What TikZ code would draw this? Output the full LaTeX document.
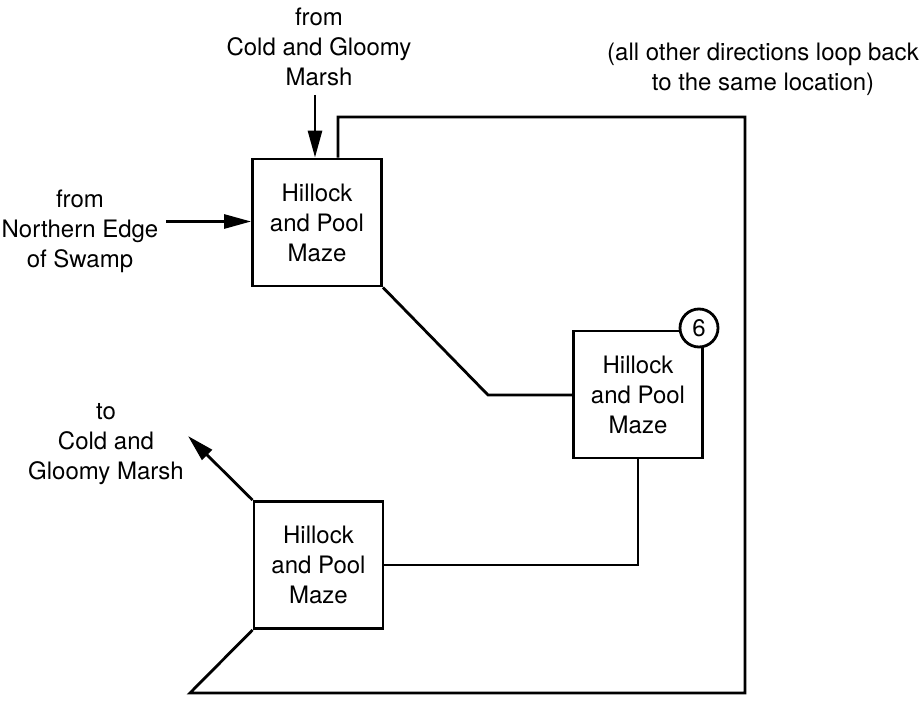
\documentclass[tikz,border=0pt]{standalone}
\usepackage{fontspec}
\setmainfont{TeX Gyre Heros}
\usetikzlibrary{arrows.meta,positioning,calc}
\tikzset{
    mazebox/.style={draw, line width=2.8pt, minimum width=129pt, minimum height=127pt,
        inner sep=0pt, align=center},
    lbl/.style={align=center, inner sep=0pt},
    wire/.style={line width=2.8pt, line join=miter},
    into/.style={wire, -{Triangle[length=27pt,width=14pt]}}
}
\begin{document}
\begin{tikzpicture}[x=1pt,y=-1pt,font=\fontsize{24}{30}\selectfont]
    \useasboundingbox (0,0) rectangle (923,703);
    \node[mazebox] (maze1) at (317,222.5) {Hillock\\and Pool\\Maze};
    \node[mazebox] (maze2) at (638,394.5) {Hillock\\and Pool\\Maze};
    \node[mazebox] (maze3) at (318.5,565) {Hillock\\and Pool\\Maze};
    \node[draw, circle, line width=2.8pt, fill=white, minimum size=38pt, inner sep=0pt]
        (six) at (699,328) {6};
%
    \node[lbl] (fromcold) at (319,47) {from\\Cold and Gloomy\\Marsh};
    \node[lbl] (fromnorth) at (80,231) {from\\Northern Edge\\of Swamp};
    \node[lbl] (tocold) at (106,444) {to\\Cold and\\Gloomy Marsh};
    \node[lbl] (note) at (763,69) {(all other directions loop back\\to the same location)};
%
    \coordinate (topin) at (315,95);
    \coordinate (leftin) at (166,221.5);
    \coordinate (outtip) at (188,436);
    \coordinate (bend) at (488,395);
    \coordinate (loopne) at (745,117);
    \coordinate (loopse) at (745,693);
    \coordinate (loopsw) at (190,693);
%
    \draw[into] (topin) -- (topin |- maze1.north);
    \draw[into] (leftin) -- (leftin -| maze1.west);
    \draw[into] (maze3.north west) -- (outtip);
    \draw[wire] (maze1.south east) -- (bend) -- (bend -| maze2.west);
    \draw[wire] (maze2.south) |- (maze3.east);
    \draw[wire] ([xshift=21pt]maze1.north) |- (loopne) -- (loopse) -- (loopsw)
        -- (maze3.south west);
\end{tikzpicture}
\end{document}
